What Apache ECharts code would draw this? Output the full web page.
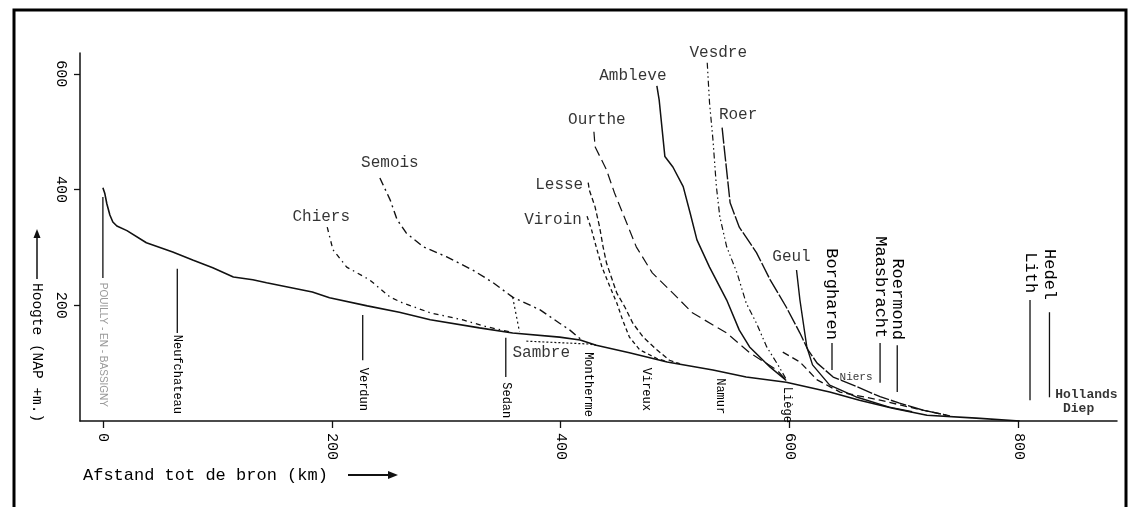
<!DOCTYPE html>
<html><head><meta charset="utf-8">
<script src="https://cdn.jsdelivr.net/npm/echarts@6/dist/echarts.min.js"></script>
<style>html,body{margin:0;padding:0;background:#fff}#c{width:1128px;height:507px}</style>
</head><body><div id="c"></div>
<script>
// ---- data (km from source, height NAP +m) ----
const xTickValues = [0, 200, 400, 600, 800];
const yTickValues = [200, 400, 600];

const maas = [[0,403],[1.7,393],[3.5,375],[6.1,356],[8.7,344],[12.2,337],[21,329],[38,308],[61,292],[79,278],[96,265],[114,249],[131,244],[143,239],[183,223],[198,213],[231,199],[259,188],[286,175],[329,161],[358,152],[399,145],[417,140],[431,131],[460,118],[493,102],[533,88],[562,76],[597,67],[635,50],[661,36],[690,22],[720,10],[763,5],[801,0]];
const chiers = [[196,335],[201,296],[213,266],[233,244],[251,214],[262,204],[286,187],[314,175],[335,163],[358,153]];
const semois = [[242,420],[251,382],[257,348],[265,325],[280,301],[300,284],[323,261],[341,239],[358,214],[382,192],[399,169],[408,157],[417,142]];
const lesse = [[424,412],[425,399],[430,370],[434,335],[437,301],[440,273],[445,244],[449,221],[456,197],[463,169],[472,145],[484,123],[495,105],[504,99]];
const viroin = [[423,354],[427,330],[431,301],[436,266],[443,232],[449,204],[454,175],[460,145],[469,123],[484,108],[491,104]];
const ourthe = [[429,500],[430,474],[440,434],[447,394],[454,360],[466,301],[480,256],[498,221],[515,187],[545,152],[565,118],[589,88],[597,70]];
const ambleve = [[484,579],[486,555],[491,457],[498,439],[507,405],[513,360],[519,313],[530,266],[545,209],[556,157],[565,128],[583,93],[597,70]];
const vesdre = [[528,619],[530,550],[533,486],[536,405],[539,353],[545,301],[554,256],[562,204],[571,169],[580,128],[591,93],[597,72]];
const roer = [[541,507],[543,469],[548,377],[556,335],[571,291],[583,244],[597,197],[609,152],[616,123],[624,100],[638,76],[659,59],[679,42],[696,31],[716,19],[737,10]];
const geul = [[606,261],[609,209],[615,128],[620,97],[635,62],[659,41],[687,24],[707,16]];
const kanaal = [[594,119],[609,102],[624,71],[644,50],[679,36],[711,21],[740,9]];
const sambre = [[370,138],[425,133],[431,131]];
const verbinding = [[358,214],[364,154]];

const labelledRivers = ['Chiers','Semois','Lesse','Viroin','Ourthe','Ambleve','Vesdre','Roer','Geul'];

const placeNames = ['POUILLY - EN - BASSIGNY','Neufchateau','Verdun','Sedan','Montherme','Vireux','Namur','Liège','Borgharen','Maasbracht','Roermond','Lith','Hedel'];
const placeKm = [0, 65, 227, 352, 424, 475, 539, 598, 637, 679, 694, 810, 827];
const placeLineTop = [387, 263, 183, 144, null, null, null, null, 135, 135, 131, 209, 188];
const placeLineBottom = [247, 152, 105, 76, null, null, null, null, 88, 66, 50, 36, 41];
const placeTextAt = [239, 149, 92, 67, 119, 92, 74, 59, 140, 143, 140, 221, 209];
const placeSide = ['below','below','below','below','below','below','below','below','above','above','above','above','above'];

const noteNames = ['Sambre', 'Niers', 'Hollands\n Diep'];
const noteKm = [383, 658, 832];
const noteM = [118, 76, 33];

// ---- styles ----
const MONO = "'Liberation Mono','DejaVu Sans Mono',monospace";
const INK = '#000';
const rivers = {
  Maas: maas, Chiers: chiers, Semois: semois, Lesse: lesse, Viroin: viroin, Ourthe: ourthe,
  Ambleve: ambleve, Vesdre: vesdre, Roer: roer, Geul: geul, Kanaal: kanaal, Sambre: sambre, Verbinding: verbinding
};
const lineStyles = {
  Maas: {type:'solid', width:1.6},
  Chiers: {type:[5,4,1.5,4], width:1.3},
  Semois: {type:[8,4,2,4], width:1.4},
  Lesse: {type:[5,3], width:1.3},
  Viroin: {type:[4,3], width:1.3},
  Ourthe: {type:[10,5], width:1.2},
  Ambleve: {type:'solid', width:1.5},
  Vesdre: {type:[6,3,1.5,3,1.5,3], width:1.2},
  Roer: {type:[16,2], width:1.4},
  Geul: {type:'solid', width:1.4},
  Kanaal: {type:[7,4], width:1.3},
  Sambre: {type:[2,2], width:1.2},
  Verbinding: {type:[2,3], width:1.2}
};
const labelOffsets = {
  Chiers:[-6,-10], Semois:[10,-15], Lesse:[-29,2], Viroin:[-34,4], Ourthe:[3,-12],
  Ambleve:[-24,-10], Vesdre:[11,-10], Roer:[16,-13], Geul:[-5,-13]
};
const noteStyles = [
  {fontSize:16, align:'center', offset:[0,0]},
  {fontSize:11, align:'center', offset:[0,0]},
  {fontSize:13, align:'left', offset:[0,0], fontWeight:'bold'}
];
const placeFont = {
  below: {font: "12px " + MONO, fill:INK},
  above: {font: "17px " + MONO, fill:INK}
};

const series = [];
Object.keys(rivers).forEach(name => {
  series.push({
    type:'line', name, data: rivers[name], showSymbol:false, symbol:'none', smooth:false,
    lineStyle:{color:'#111', width: lineStyles[name].width, type: lineStyles[name].type},
    silent:true, z:3
  });
});

series.push({
  type:'scatter', name:'riverLabels', symbol:'circle', symbolSize:0, silent:true, z:5,
  data: labelledRivers.map(n => ({name:n, value: rivers[n][0], label:{offset: labelOffsets[n]}})),
  label:{show:true, position:'inside', formatter:'{b}', color:INK, fontFamily:MONO, fontSize:16}
});

series.push({
  type:'scatter', name:'notes', symbol:'circle', symbolSize:0, silent:true, z:5,
  data: noteNames.map((n,i) => ({name:n, value:[noteKm[i], noteM[i]],
    label:{fontSize: noteStyles[i].fontSize, align: noteStyles[i].align, offset: noteStyles[i].offset, fontWeight: noteStyles[i].fontWeight || 'normal'}})),
  label:{show:true, position:'inside', formatter:'{b}', color:INK, fontFamily:MONO, lineHeight:14}
});

series.push({
  type:'custom', name:'places', silent:true, z:4, clip:false,
  data: placeKm.map((k,i) => [k, placeTextAt[i]]),
  renderItem(params, api) {
    const i = params.dataIndex;
    const km = placeKm[i];
    const children = [];
    if (placeLineTop[i] != null) {
      const p1 = api.coord([km, placeLineTop[i]]);
      const p2 = api.coord([km, placeLineBottom[i]]);
      children.push({type:'line', shape:{x1:p1[0], y1:p1[1], x2:p2[0], y2:p2[1]}, style:{stroke:'#111', lineWidth:1.3}});
    }
    const t = api.coord([km, placeTextAt[i]]);
    const side = placeSide[i];
    const isPouilly = i === 0;
    children.push({
      type:'text', x:t[0], y:t[1], rotation:-Math.PI/2,
      style:{
        text: placeNames[i],
        font: isPouilly ? "10px 'Liberation Sans',Arial,sans-serif" : placeFont[side].font,
        fill: isPouilly ? '#9a9a9a' : placeFont[side].fill,
        align: side === 'below' ? 'left' : 'right',
        verticalAlign:'middle'
      }
    });
    return {type:'group', children};
  }
});

const chart = echarts.init(document.getElementById('c'), null, {renderer:'canvas'});
chart.setOption({
  backgroundColor:'#fff',
  animation:false,
  grid:{left:80, right:11, top:53, bottom:86, containLabel:false, outerBoundsMode:'none'},
  xAxis:{
    type:'value', min:-20, max:886,
    axisLine:{show:true, onZero:false, lineStyle:{color:'#111', width:1.5}},
    axisTick:{show:true, inside:false, length:7, customValues:xTickValues, lineStyle:{color:'#111', width:1.3}},
    axisLabel:{show:true, rotate:-90, margin:12, customValues:xTickValues, color:INK, fontFamily:MONO, fontSize:15},
    splitLine:{show:false}
  },
  yAxis:{
    type:'value', min:0, max:636,
    axisLine:{show:true, onZero:false, lineStyle:{color:'#111', width:1.5}},
    axisTick:{show:true, inside:false, length:6, customValues:yTickValues, lineStyle:{color:'#111', width:1.3}},
    axisLabel:{show:true, rotate:-90, margin:12, customValues:yTickValues, color:INK, fontFamily:MONO, fontSize:15},
    splitLine:{show:false}
  },
  graphic:[
    {type:'rect', shape:{x:14, y:10, width:1112, height:520}, style:{fill:'none', stroke:'#000', lineWidth:3}, silent:true},
    {type:'text', x:37, y:283, rotation:-Math.PI/2, style:{text:'Hoogte (NAP +m.)', font:"14.5px " + MONO, fill:INK, align:'left', verticalAlign:'middle'}, silent:true},
    {type:'line', shape:{x1:37, y1:279, x2:37, y2:236}, style:{stroke:'#111', lineWidth:1.5}, silent:true},
    {type:'polygon', shape:{points:[[37,229],[33.5,238],[40.5,238]]}, style:{fill:'#111'}, silent:true},
    {type:'text', x:83, y:475, style:{text:'Afstand tot de bron (km)', font:"17px " + MONO, fill:INK, align:'left', verticalAlign:'middle'}, silent:true},
    {type:'line', shape:{x1:348, y1:475, x2:389, y2:475}, style:{stroke:'#111', lineWidth:2.2}, silent:true},
    {type:'polygon', shape:{points:[[398,475],[388,471],[388,479]]}, style:{fill:'#111'}, silent:true}
  ],
  series
});
</script>
</body></html>
